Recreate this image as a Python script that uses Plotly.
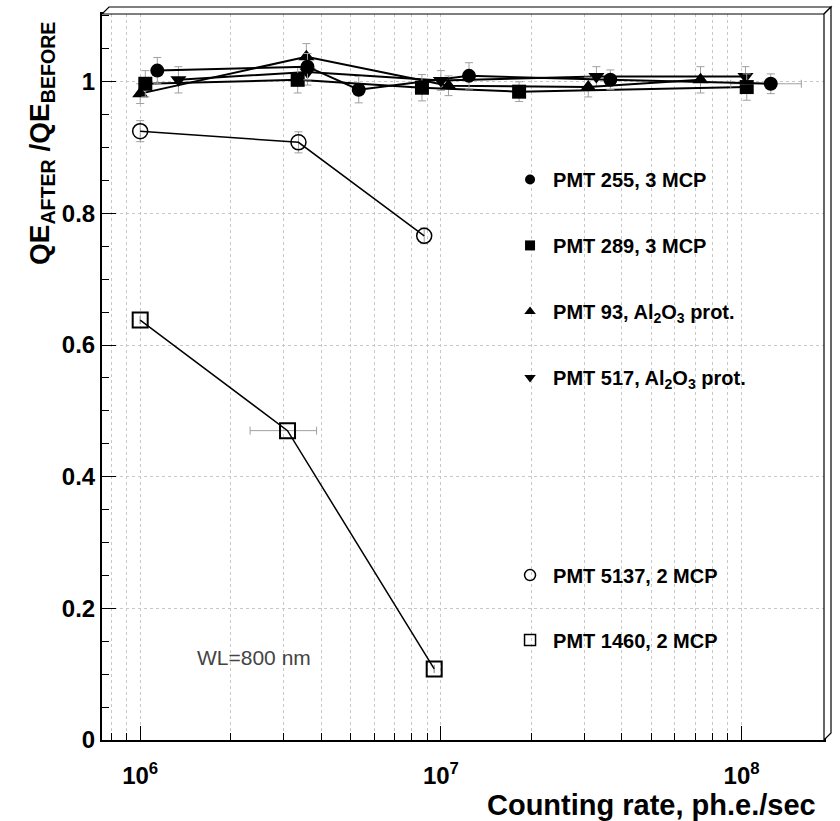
import plotly.graph_objects as go

# ---- data ----
x_255 = [1.14e6, 3.6e6, 5.33e6, 1.24e7, 3.66e7, 1.25e8]
y_255 = [1.017, 1.023, 0.988, 1.009, 1.003, 0.997]
ey_255 = [0.02, 0.02, 0.02, 0.02, 0.015, 0.015]
ex_255 = [0, 0, 0, 0, 0, 3.3e7]

x_289 = [1.04e6, 3.34e6, 8.65e6, 1.82e7, 1.04e8]
y_289 = [0.997, 1.003, 0.991, 0.985, 0.992]
ey_289 = [0.02, 0.02, 0.02, 0.015, 0.02]

x_93 = [1.0e6, 3.57e6, 1.06e7, 3.09e7, 7.3e7]
y_93 = [0.982, 1.038, 0.994, 0.992, 1.003]
ey_93 = [0.015, 0.02, 0.015, 0.015, 0.02]

x_517 = [1.34e6, 3.6e6, 1.0e7, 3.29e7, 1.03e8]
y_517 = [1.003, 1.015, 1.002, 1.008, 1.008]
ey_517 = [0.02, 0.02, 0.015, 0.015, 0.015]

x_5137 = [1.0e6, 3.36e6, 8.8e6]
y_5137 = [0.925, 0.908, 0.766]
ey_5137 = [0.016, 0.016, 0.012]

x_1460 = [1.0e6, 3.09e6, 9.5e6]
y_1460 = [0.638, 0.470, 0.108]
ex_1460 = [0, 0.77e6, 0]

labels_top = ["PMT 255, 3 MCP", "PMT 289, 3 MCP",
              "PMT 93, Al<sub>2</sub>O<sub>3</sub> prot.",
              "PMT 517, Al<sub>2</sub>O<sub>3</sub> prot."]
labels_bot = ["PMT 5137, 2 MCP", "PMT 1460, 2 MCP"]

x_major = [1e6, 1e7, 1e8]
x_major_text = ["10<sup>6</sup>", "10<sup>7</sup>", "10<sup>8</sup>"]
x_minor = [m * 10 ** e for e in (5, 6, 7) for m in range(2, 10)] + [2e8]

FONT = "Liberation Sans, Arial, Helvetica, sans-serif"
ERR = "#a0a0a0"

fig = go.Figure()

def add_series(x, y, sym, size, lw, ey=None, ex=None, mline=0):
    fig.add_trace(go.Scatter(
        x=x, y=y, mode="lines+markers", showlegend=False,
        line=dict(color="black", width=lw),
        marker=dict(symbol=sym, size=size, color="black",
                    line=dict(color="black", width=mline)),
        error_y=dict(type="data", array=ey, color=ERR, thickness=1, width=4,
                     visible=ey is not None),
        error_x=dict(type="data", array=ex, color=ERR, thickness=1, width=4,
                     visible=ex is not None),
    ))

add_series(x_1460, y_1460, "square-open", 15, 1.5, ex=ex_1460, mline=2)
add_series(x_5137, y_5137, "circle-open", 15, 1.5, ey=ey_5137, mline=1.5)
add_series(x_517, y_517, "triangle-down", 14, 2, ey=ey_517)
add_series(x_93, y_93, "triangle-up", 14, 2, ey=ey_93)
add_series(x_289, y_289, "square", 14, 2, ey=ey_289)
add_series(x_255, y_255, "circle", 14, 2, ey=ey_255, ex=ex_255)

# legend-only entries
top_syms = ["circle", "square", "triangle-up", "triangle-down"]
for i, (lab, s) in enumerate(zip(labels_top, top_syms)):
    fig.add_trace(go.Scatter(x=[None], y=[None], mode="markers", name=lab,
                             legend="legend", legendgroup=f"t{i}",
                             marker=dict(symbol=s, size=10, color="black")))
bot_syms = ["circle-open", "square-open"]
for i, (lab, s) in enumerate(zip(labels_bot, bot_syms)):
    fig.add_trace(go.Scatter(x=[None], y=[None], mode="markers", name=lab,
                             legend="legend2", legendgroup=f"b{i}",
                             marker=dict(symbol=s, size=11, color="black",
                                         line=dict(width=1.5, color="black"))))

legfont = dict(family=FONT, size=20, color="black", weight="bold")
grid = dict(showgrid=True, gridcolor="#c8c8c8", griddash="dot", gridwidth=1)

fig.update_layout(
    width=840, height=821,
    margin=dict(l=102, r=16, t=12, b=81),
    paper_bgcolor="white", plot_bgcolor="white",
    font=dict(family=FONT, color="black"),
    legend=dict(x=0.561, y=0.799, xanchor="left", yanchor="top",
                bgcolor="rgba(0,0,0,0)", font=legfont, tracegroupgap=37,
                traceorder="grouped", itemwidth=36),
    legend2=dict(x=0.561, y=0.254, xanchor="left", yanchor="top",
                 bgcolor="rgba(0,0,0,0)", font=legfont, tracegroupgap=36,
                 traceorder="grouped", itemwidth=36),
    xaxis=dict(type="log", range=[5.873, 8.274], tickvals=x_major,
               ticktext=x_major_text, ticks="inside", ticklen=14,
               tickwidth=1, tickcolor="black", ticklabelstandoff=13,
               tickfont=dict(family=FONT, size=24, weight="bold"),
               showline=True, linecolor="black", linewidth=2, mirror=True,
               minor=dict(tickvals=x_minor, ticks="inside", ticklen=7,
                          tickcolor="black", **grid),
               zeroline=False, **grid),
    yaxis=dict(range=[0, 1.103], tickvals=[0, 0.2, 0.4, 0.6, 0.8, 1],
               ticktext=["0", "0.2", "0.4", "0.6", "0.8", "1"],
               ticks="inside", ticklen=14, tickwidth=1, tickcolor="black",
               tickfont=dict(family=FONT, size=24, weight="bold"),
               showline=True, linecolor="black", linewidth=2, mirror=True,
               minor=dict(dtick=0.05, ticks="inside", ticklen=7,
                          tickcolor="black", showgrid=False),
               zeroline=False, **grid),
)

# 3D-like frame bevel (top and right)
dx, dy = 7 / 722, 7 / 728
fig.add_shape(type="path", xref="paper", yref="paper",
              path=f"M 0,1 L {dx},{1+dy} L {1+dx},{1+dy} L 1,1 Z",
              line=dict(color="black", width=1.2), fillcolor="white")
fig.add_shape(type="path", xref="paper", yref="paper",
              path=f"M 1,1 L {1+dx},{1+dy} L {1+dx},{dy} L 1,0 Z",
              line=dict(color="black", width=1.2), fillcolor="white")

fig.add_annotation(text="WL=800 nm", xref="paper", yref="paper",
                   x=0.21, y=0.114, xanchor="center", yanchor="middle",
                   showarrow=False,
                   font=dict(family=FONT, size=21, color="#444444"))
fig.add_annotation(text="QE<sub>AFTER</sub> /QE<sub>BEFORE</sub>",
                   xref="paper", yref="paper", x=-0.083, y=0.821,
                   xanchor="center", yanchor="middle",
                   textangle=-90, showarrow=False,
                   font=dict(family=FONT, size=28, weight="bold", color="black"))
fig.add_annotation(text="Counting rate, ph.e./sec", xref="paper", yref="paper",
                   x=0.992, y=-0.0895, xanchor="right", yanchor="middle",
                   showarrow=False,
                   font=dict(family=FONT, size=29, weight="bold", color="black"))

fig.write_html("out.html")
